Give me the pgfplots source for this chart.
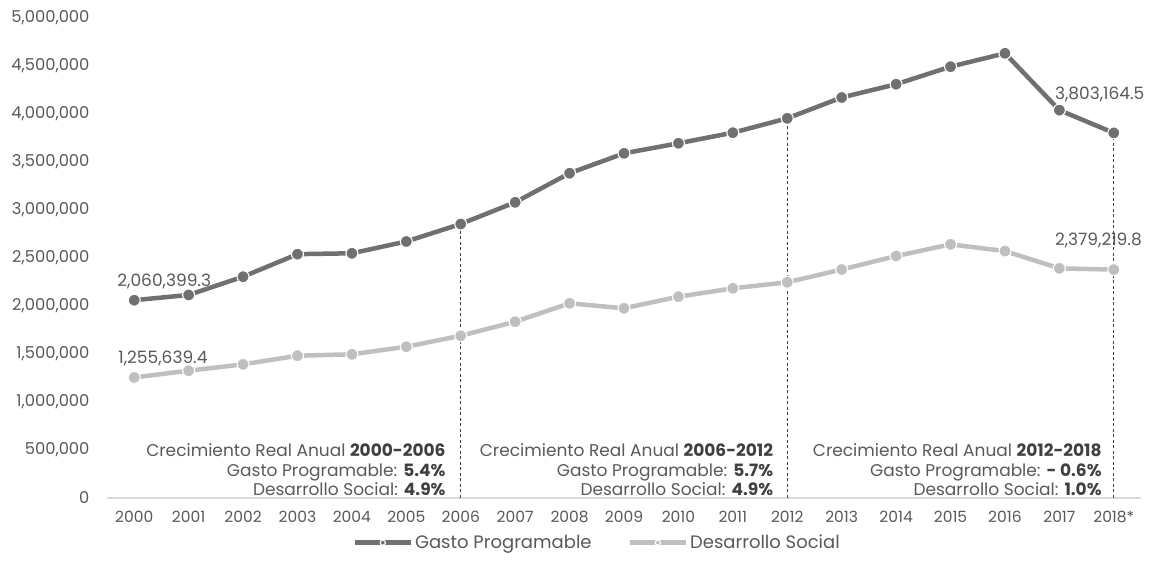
\documentclass[border=0pt]{standalone}
\usepackage{pgfplots}
\pgfplotsset{compat=1.18}
\usepackage{fontspec}
\setmainfont{Poppins}

\definecolor{gastoC}{HTML}{707070}
\definecolor{socialC}{HTML}{BFBFBF}
\definecolor{txtC}{HTML}{595959}
\definecolor{noteC}{HTML}{404040}
\definecolor{axisC}{HTML}{D9D9D9}

\newcommand{\hl}[1]{\textcolor{noteC}{\textbf{#1}}}

\begin{document}
\begin{tikzpicture}
\begin{axis}[
  scale only axis,
  width=1034pt, height=480pt,
  xmin=-0.5, xmax=18.5,
  ymin=0, ymax=5000000,
  axis x line=bottom,
  axis y line=left,
  x axis line style={axisC, line width=1.3pt, -},
  y axis line style={draw=none},
  xtick={0,...,18},
  xticklabels={2000,2001,2002,2003,2004,2005,2006,2007,2008,2009,2010,2011,2012,2013,2014,2015,2016,2017,2018*},
  major tick length=0pt,
  xticklabel style={font=\fontsize{15.5}{17}\selectfont, text=txtC, yshift=-10pt},
  ytick={0,500000,...,5000000},
  yticklabel style={font=\fontsize{16.3}{18}\selectfont, text=txtC, xshift=-14pt},
  yticklabel={\pgfmathprintnumber[fixed, precision=0, 1000 sep={,}]{\tick}},
  scaled y ticks=false,
  /pgf/number format/assume math mode=true,
  clip=false,
  legend style={at={(rel axis cs:0.474,-0.093)}, anchor=center, draw=none,
    legend columns=2, font=\fontsize{18}{20}\selectfont, text=txtC,
    /tikz/every even column/.append style={column sep=34pt},
    inner sep=0pt},
  legend cell align=left,
  legend image code/.code={
    \draw[#1, mark repeat=2, mark phase=2, mark size=2.6pt]
      plot coordinates {(0pt,0pt) (28pt,0pt) (56pt,0pt)};
  },
  every mark/.append style={line width=1.1pt},
]

% vertical dashed guides at the end of each six-year period
\addplot[ycomb, no marks, noteC, line width=0.7pt, dash pattern=on 3pt off 2.5pt, forget plot]
  coordinates {(6,2854000) (12,3955000) (18,3803164.5)};

\addplot[gastoC, line width=4.5pt, mark=*, mark size=6pt,
  mark options={fill=gastoC, draw=white, line width=1.1pt}]
  coordinates {
    (0,2060399.3) (1,2115000) (2,2305000) (3,2540000) (4,2549000)
    (5,2672000) (6,2854000) (7,3080000) (8,3383000) (9,3590000)
    (10,3695000) (11,3805000) (12,3955000) (13,4172000) (14,4310000)
    (15,4493000) (16,4632000) (17,4040000) (18,3803164.5)};
\addlegendentry{Gasto Programable}

\addplot[socialC, line width=4.5pt, mark=*, mark size=6pt,
  mark options={fill=socialC, draw=white, line width=1.1pt}]
  coordinates {
    (0,1255639.4) (1,1326000) (2,1392000) (3,1482000) (4,1497000)
    (5,1576000) (6,1690000) (7,1836000) (8,2028000) (9,1976000)
    (10,2097000) (11,2184000) (12,2247000) (13,2380000) (14,2520000)
    (15,2642000) (16,2572000) (17,2392000) (18,2379219.8)};
\addlegendentry{Desarrollo Social}

% value labels
\begin{scope}[every node/.style={font=\fontsize{17}{19}\selectfont, text=txtC, inner sep=0pt}]
  \node[anchor=base west] at ([xshift=-17pt, yshift=14pt]axis cs:0,2060399.3) {2,060,399.3};
  \node[anchor=base west] at ([xshift=-16pt, yshift=14pt]axis cs:0,1255639.4) {1,255,639.4};
  \node[anchor=base west] at ([xshift=-59pt, yshift=33pt]axis cs:18,3803164.5) {3,803,164.5};
  \node[anchor=base west] at ([xshift=-59pt, yshift=24pt]axis cs:18,2379219.8) {2,379,219.8};
\end{scope}

% growth notes for each period
\begin{scope}[every node/.style={font=\fontsize{17}{19.5}\selectfont, text=txtC, inner sep=0pt, align=right, anchor=south east}]
  \node at ([xshift=-15pt, yshift=2pt]axis cs:6,0) {Crecimiento Real Anual \hl{2000-2006}\\Gasto Programable: \hl{5.4\%}\\Desarrollo Social: \hl{4.9\%}};
  \node at ([xshift=-14pt, yshift=2pt]axis cs:12,0) {Crecimiento Real Anual \hl{2006-2012}\\Gasto Programable: \hl{5.7\%}\\Desarrollo Social: \hl{4.9\%}};
  \node at ([xshift=-12pt, yshift=2pt]axis cs:18,0) {Crecimiento Real Anual \hl{2012-2018}\\Gasto Programable: \hl{- 0.6\%}\\Desarrollo Social: \hl{1.0\%}};
\end{scope}

\coordinate (bl) at (rel axis cs:0,0);
\coordinate (tr) at (rel axis cs:1,1);
\end{axis}
\pgfresetboundingbox
\path ([xshift=-107pt, yshift=-67pt]bl) rectangle ([xshift=14pt, yshift=18pt]tr);
\end{tikzpicture}
\end{document}
